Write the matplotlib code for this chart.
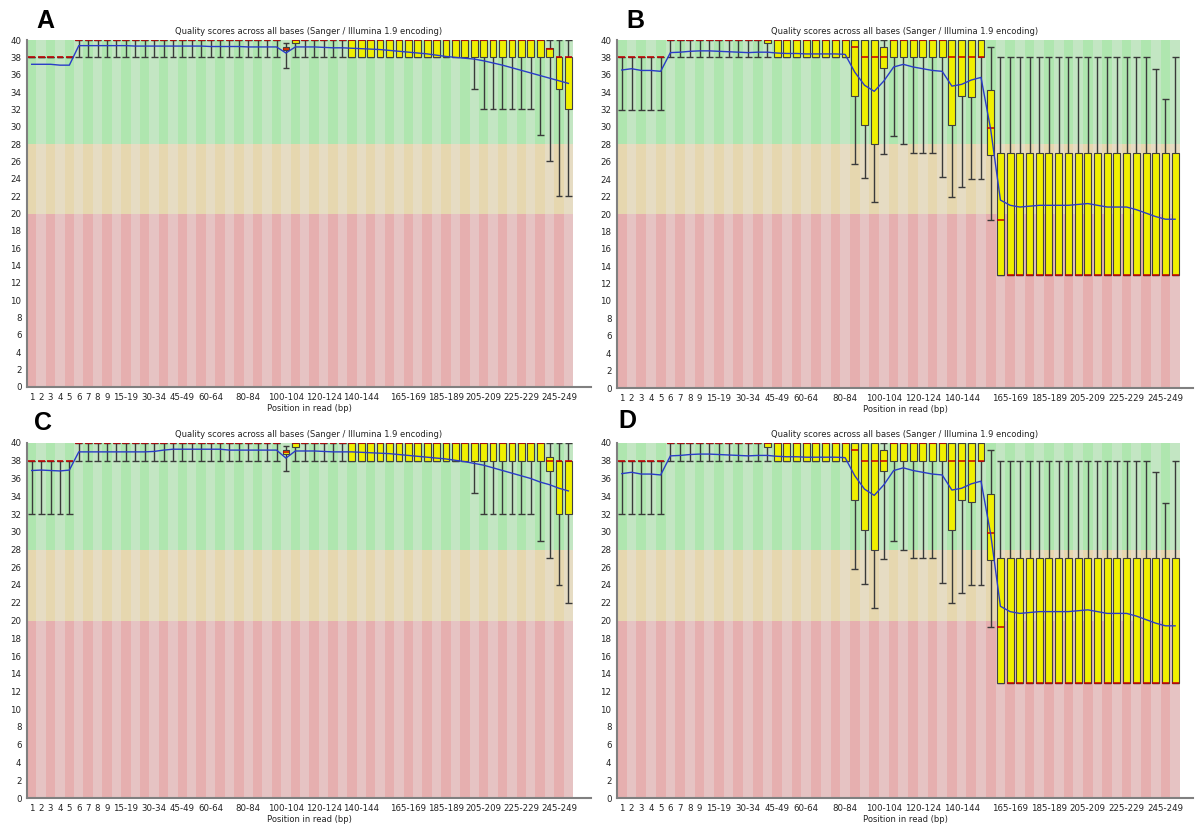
import numpy as np
import matplotlib
matplotlib.use("Agg")
import matplotlib.pyplot as plt

# ---------------------------------------------------------------- categories
positions = ([str(i) for i in range(1, 10)]
             + [f"{s}-{s + 4}" for s in range(10, 250, 5)]
             + ["250-251"])
shown_labels = ["1", "2", "3", "4", "5", "6", "7", "8", "9", "15-19", "30-34",
                "45-49", "60-64", "80-84", "100-104", "120-124", "140-144",
                "165-169", "185-189", "205-209", "225-229", "245-249"]
y_ticks = list(range(0, 41, 2))

# ---------------------------------------------------------------- sample A
a_p10 = [38]*5 + [38]*22 + [36.8, 38] + [38]*5 + [38]*13 + [34.4] + [32]*6 + [29, 26, 22, 22]
a_q1 = [38]*5 + [40]*22 + [38.8, 39.6] + [40]*5 + [38]*13 + [38] + [38]*6 + [38, 38, 34.4, 32]
a_med = [38]*5 + [40]*22 + [39.0, 40] + [40]*5 + [40]*13 + [40] + [40]*6 + [40, 39, 38, 38]
a_q3 = [38]*5 + [40]*22 + [39.2, 40] + [40]*5 + [40]*13 + [40] + [40]*6 + [40, 39.1, 38, 38]
a_p90 = [38]*5 + [40]*22 + [39.6, 40] + [40]*5 + [40]*13 + [40] + [40]*6 + [40, 40, 40, 40]
a_mean = [37.2, 37.2, 37.2, 37.1, 37.1,
          39.35, 39.35, 39.35, 39.35, 39.35, 39.35, 39.3, 39.3, 39.3,
          39.3, 39.3, 39.3, 39.3, 39.3, 39.25, 39.25, 39.25, 39.25, 39.2, 39.2, 39.2, 39.2,
          38.5, 39.2,
          39.2, 39.2, 39.15, 39.1, 39.1,
          39.05, 39.0, 38.95, 38.9, 38.8, 38.7, 38.6, 38.5, 38.4, 38.25, 38.1, 38.0, 37.9,
          37.8, 37.6, 37.35, 37.1, 36.8, 36.5, 36.2,
          35.9, 35.6, 35.3, 35.0]

# ---------------------------------------------------------------- sample B
b_p10 = ([32]*5 + [38]*10 + [38] + [38]*8
         + [25.8, 24.1, 21.4, 26.9, 29, 28, 27, 27, 27, 24.2, 22.0, 23.1, 24.0, 24.0, 19.3]
         + [13]*19)
b_q1 = ([38]*5 + [40]*10 + [39.6] + [38]*8
        + [33.6, 30.2, 28.0, 36.8, 38, 38, 38, 38, 38, 38, 30.2, 33.6, 33.4, 38, 26.8]
        + [13]*19)
b_med = ([38]*5 + [40]*10 + [40] + [40]*8
         + [39.2, 38, 38, 38, 40, 40, 40, 40, 40, 40, 38, 38, 38, 38, 29.9]
         + [19.3] + [13]*18)
b_q3 = ([38]*5 + [40]*10 + [40] + [40]*8
        + [40, 40, 40, 39.2, 40, 40, 40, 40, 40, 40, 40, 40, 40, 40, 34.3]
        + [27]*19)
b_p90 = ([38]*5 + [40]*10 + [40] + [40]*8
         + [40]*14 + [39.2]
         + [38]*16 + [36.7, 33.2, 38])
b_mean = ([36.55, 36.7, 36.5, 36.5, 36.4,
           38.55, 38.6, 38.7, 38.75, 38.75, 38.7, 38.65, 38.6, 38.55, 38.6,
           38.6,
           38.5, 38.45, 38.45, 38.4, 38.4, 38.4, 38.4, 38.35,
           36.3, 34.8, 34.1, 35.3, 36.9, 37.2, 36.9, 36.7, 36.5, 36.4, 34.7, 34.9, 35.4, 35.7, 29.7,
           21.6, 21.0, 20.8, 20.9, 21.0, 21.0, 21.0, 21.0, 21.1, 21.2, 21.0, 20.8, 20.8, 20.8,
           20.5, 20.1, 19.7, 19.4, 19.4])

# ---------------------------------------------------------------- sample C
c_p10 = [32]*5 + [38]*22 + [36.85, 38] + [38]*5 + [38]*13 + [34.4] + [32]*6 + [29, 27, 24, 22]
c_q1 = [38]*5 + [40]*22 + [38.8, 39.6] + [40]*5 + [38]*13 + [38] + [38]*6 + [38, 36.8, 32, 32]
c_med = [38]*5 + [40]*22 + [39.0, 40] + [40]*5 + [40]*13 + [40] + [40]*6 + [40, 38, 38, 38]
c_q3 = [38]*5 + [40]*22 + [39.2, 40] + [40]*5 + [40]*13 + [40] + [40]*6 + [40, 38.4, 38, 38]
c_p90 = [38]*5 + [40]*22 + [39.66, 40] + [40]*5 + [40]*13 + [40] + [40]*6 + [40, 40, 40, 40]
c_mean = [36.9, 36.95, 36.9, 36.85, 36.95,
          39.0, 39.0, 39.0, 39.0, 39.0, 39.0, 39.0, 39.0, 39.05,
          39.2, 39.3, 39.3, 39.3, 39.3, 39.3, 39.3, 39.2, 39.2, 39.2, 39.2, 39.2, 39.2,
          38.3, 39.1,
          39.1, 39.1, 39.05, 39.0, 39.0,
          39.0, 38.95, 38.9, 38.85, 38.8, 38.7, 38.6, 38.5, 38.4, 38.3, 38.2, 38.05, 37.9,
          37.7, 37.5, 37.2, 36.9, 36.6, 36.3, 36.0,
          35.6, 35.3, 34.9, 34.6]

# ---------------------------------------------------------------- sample D
d_p10 = list(b_p10)
d_q1 = list(b_q1)
d_med = list(b_med)
d_q3 = list(b_q3)
d_p90 = list(b_p90)
d_mean = list(b_mean)

# ---------------------------------------------------------------- styling
GOOD, GOOD_DARK = "#c3e6c3", "#afe6af"
BAD, BAD_DARK = "#e6dcc3", "#e6d7af"
UGLY, UGLY_DARK = "#e6c3c3", "#e6afaf"
BOX_YELLOW = "#f0f000"
MEDIAN_RED = "#c80000"
MEAN_BLUE = "#2a3cc8"
AXIS_GREY = "#808080"
TITLE = "Quality scores across all bases (Sanger / Illumina 1.9 encoding)"

W, H = 1195, 826
fig = plt.figure(figsize=(W / 100, H / 100), dpi=100)
fig.patch.set_facecolor("white")


def px_axes(left, top, right, bottom):
    return fig.add_axes([left / W, 1 - bottom / H, (right - left) / W, (bottom - top) / H])


def quality_panel(ax, p10, q1, med, q3, p90, mean, xmax):
    n = len(positions)
    x = np.arange(n)
    dark = (x % 2 == 0)
    # banded background: poor (<20), reasonable (20-28), good (28-40)
    ax.bar(x, 20, bottom=0, width=1.0, color=[UGLY_DARK if d else UGLY for d in dark],
           linewidth=0, zorder=0)
    ax.bar(x, 8, bottom=20, width=1.0, color=[BAD_DARK if d else BAD for d in dark],
           linewidth=0, zorder=0)
    ax.bar(x, 12, bottom=28, width=1.0, color=[GOOD_DARK if d else GOOD for d in dark],
           linewidth=0, zorder=0)

    p10, q1, med, q3, p90 = map(np.asarray, (p10, q1, med, q3, p90))
    bw = 0.72
    ax.vlines(x, p10, p90, color="#3a3a3a", linewidth=1.0, zorder=2)
    ax.hlines(p10, x - bw / 2, x + bw / 2, color="#3a3a3a", linewidth=1.0, zorder=2)
    ax.hlines(p90, x - bw / 2, x + bw / 2, color="#3a3a3a", linewidth=1.0, zorder=2)
    ax.bar(x, q3 - q1, bottom=q1, width=bw, color=BOX_YELLOW, edgecolor="#404040",
           linewidth=0.8, zorder=3)
    ax.hlines(med, x - bw / 2, x + bw / 2, color=MEDIAN_RED, linewidth=1.1, zorder=4)
    ax.plot(x, mean, color=MEAN_BLUE, linewidth=1.0, zorder=5)

    ax.set_xlim(-0.5, xmax)
    ax.set_ylim(0, 40)
    ax.set_facecolor("white")
    for side in ("top", "right"):
        ax.spines[side].set_visible(False)
    for side in ("left", "bottom"):
        ax.spines[side].set_color(AXIS_GREY)
        ax.spines[side].set_linewidth(1.5)
    ax.set_yticks(y_ticks)
    ax.set_yticklabels([str(v) for v in y_ticks])
    ticks = [positions.index(lbl) for lbl in shown_labels]
    ax.set_xticks(ticks)
    ax.set_xticklabels(shown_labels)
    ax.tick_params(length=0, labelsize=6.2, colors="#222222", pad=4)
    ax.set_title(TITLE, fontsize=6.0, color="#222222", pad=4)
    ax.set_xlabel("Position in read (bp)", fontsize=6.0, color="#222222", labelpad=2)


panels = [
    ("A", (27, 40, 591, 387), 59.4, (a_p10, a_q1, a_med, a_q3, a_p90, a_mean), (45, 21)),
    ("B", (617, 40, 1193, 388), 58.84, (b_p10, b_q1, b_med, b_q3, b_p90, b_mean), (635, 21)),
    ("C", (27, 443, 591, 798), 59.4, (c_p10, c_q1, c_med, c_q3, c_p90, c_mean), (43, 423)),
    ("D", (617, 443, 1193, 798), 58.84, (d_p10, d_q1, d_med, d_q3, d_p90, d_mean), (627, 421)),
]

for letter, box, xmax, series, (lx, ly) in panels:
    ax = px_axes(*box)
    quality_panel(ax, *series, xmax)
    fig.text(lx / W, 1 - ly / H, letter, fontsize=18, fontweight="bold",
             family="Liberation Sans", ha="center", va="center", color="black")

fig.savefig("out.png", dpi=100, facecolor="white")
